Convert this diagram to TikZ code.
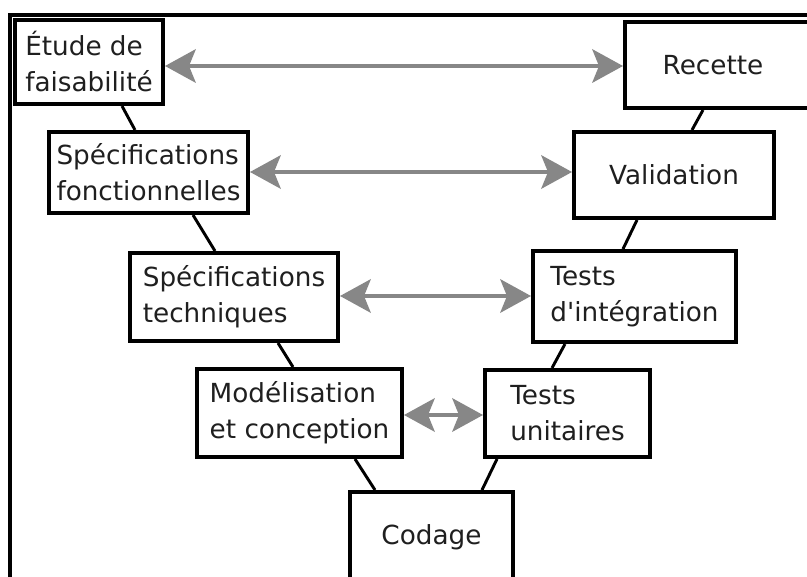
\documentclass[tikz,border=0pt]{standalone}
\usepackage{fontspec}
\setmainfont{DejaVu Sans}
\usetikzlibrary{arrows.meta}
\begin{document}
\begin{tikzpicture}[x=0.75pt,y=-0.75pt,
  box/.style={draw=black, line width=3pt, fill=white, align=left, inner sep=0pt,
    font=\fontsize{19.7pt}{27pt}\selectfont, text=black!88},
  link/.style={line width=2.2pt, black},
  garrow/.style={line width=3pt, color=black!47,
    {Stealth[length=23pt,width=25pt,inset=5pt]}-{Stealth[length=23pt,width=25pt,inset=5pt]}}
]
\useasboundingbox (0,0) rectangle (807,577);
\clip (0,0) rectangle (807,577);
\fill[white] (0,0) rectangle (807,577);
\draw[line width=3pt, black] (10,590) -- (10,15) -- (820,15);

\node[box, minimum width=111pt, minimum height=63pt] (etude) at (89,62) {Étude de\\faisabilité};
\node[box, minimum width=162pt, minimum height=64.5pt] (rec) at (733,65) {Recette\hspace*{30pt}};
\node[box, minimum width=149.25pt, minimum height=60.75pt] (sfonc) at (148.5,172.5) {Spécifications\\fonctionnelles};
\node[box, minimum width=150pt, minimum height=64.5pt] (valid) at (674,175) {Validation};
\node[box, minimum width=156pt, minimum height=66pt] (stech) at (234,297) {Spécifications\\techniques};
\node[box, minimum width=152.25pt, minimum height=68.25pt] (tint) at (634.5,296.5) {Tests\\d\textquotesingle intégration};
\node[box, minimum width=153.75pt, minimum height=66pt] (model) at (299.5,413) {Modélisation\\et conception};
\node[box, minimum width=123.75pt, minimum height=65.25pt] (tunit) at (567.5,413.5) {Tests\\unitaires};
\node[box, minimum width=122.25pt, minimum height=67.5pt] (codage) at (431.5,537) {Codage};

\draw[link] (etude.south -| 122,0) -- (sfonc.north -| 135,0);
\draw[link] (rec.south -| 703,0) -- (valid.north -| 692,0);
\draw[link] (sfonc.south -| 193,0) -- (stech.north -| 215,0);
\draw[link] (valid.south -| 637,0) -- (tint.north -| 623,0);
\draw[link] (stech.south -| 278,0) -- (model.north -| 293,0);
\draw[link] (tint.south -| 565,0) -- (tunit.north -| 552,0);
\draw[link] (model.south -| 355,0) -- (codage.north -| 375,0);
\draw[link] (tunit.south -| 497,0) -- (codage.north -| 482,0);

\draw[garrow] (etude.east |- 0,66) -- (rec.west |- 0,66);
\draw[garrow] (sfonc.east |- 0,172) -- (valid.west |- 0,172);
\draw[garrow] (stech.east |- 0,296) -- (tint.west |- 0,296);
\draw[garrow] (model.east |- 0,415) -- (tunit.west |- 0,415);
\end{tikzpicture}
\end{document}
